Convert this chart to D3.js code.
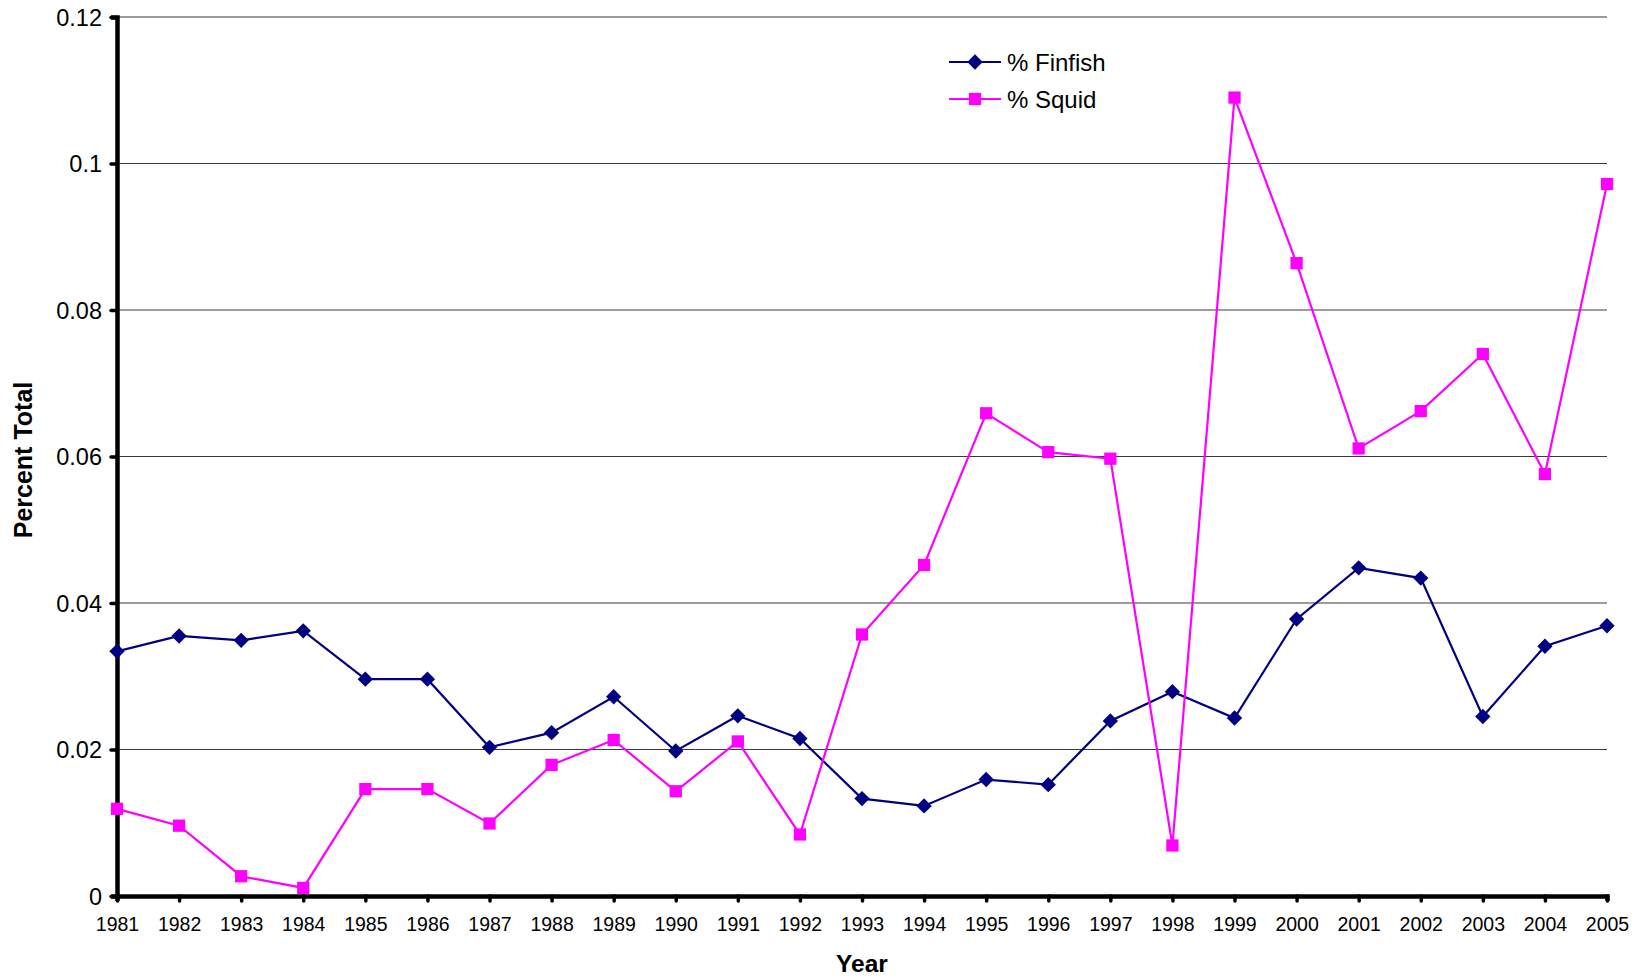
<!DOCTYPE html>
<html>
<head>
<meta charset="utf-8">
<script src="https://cdn.jsdelivr.net/npm/d3@7"></script>
<style>
body { margin: 0; background: white; }
text { font-family: Arial, "Liberation Sans", sans-serif; }
</style>
</head>
<body>
<script>
const largeur = 1642;
const hauteur = 979;
const marges = { haut: 17, droite: 35, bas: 83, gauche: 117 };

const annees = [1981, 1982, 1983, 1984, 1985, 1986, 1987, 1988, 1989, 1990, 1991, 1992, 1993,
    1994, 1995, 1996, 1997, 1998, 1999, 2000, 2001, 2002, 2003, 2004, 2005];

const finfish = [0.0334, 0.0355, 0.0349, 0.0362, 0.0296, 0.0296, 0.0203, 0.0223, 0.0272, 0.0198,
    0.0246, 0.0215, 0.0133, 0.0123, 0.0159, 0.0152, 0.0239, 0.0279, 0.0243, 0.0378,
    0.0448, 0.0434, 0.0245, 0.0341, 0.0369];

const squid = [0.0119, 0.0096, 0.0027, 0.0011, 0.0146, 0.0146, 0.0099, 0.0179, 0.0213, 0.0143,
    0.0211, 0.0084, 0.0357, 0.0452, 0.0659, 0.0606, 0.0597, 0.0069, 0.1090, 0.0864,
    0.0611, 0.0662, 0.0740, 0.0576, 0.0972];

const ticksY = [0, 0.02, 0.04, 0.06, 0.08, 0.1, 0.12];
const etiquettesY = ["0", "0.02", "0.04", "0.06", "0.08", "0.1", "0.12"];

const series = [
    { nom: "% Finfish", valeurs: finfish, couleur: "#000080", symbole: d3.symbolDiamond2, taille: 150 },
    { nom: "% Squid", valeurs: squid, couleur: "#FF00FF", symbole: d3.symbolSquare, taille: 150 }
];

const svg = d3
.select("body")
.append("svg")
.attr("width", largeur)
.attr("height", hauteur);

const x = d3.scaleLinear()
.domain([annees[0], annees[annees.length - 1]])
.range([marges.gauche, largeur - marges.droite]);

const y = d3.scaleLinear()
.domain([0, 0.12])
.range([hauteur - marges.bas, marges.haut]);

// grille
svg.append("g")
.selectAll("line")
.data(ticksY.slice(1))
.enter()
.append("line")
.attr("x1", marges.gauche)
.attr("x2", largeur - marges.droite)
.attr("y1", function(d) { return y(d); })
.attr("y2", function(d) { return y(d); })
.attr("stroke", "#3a3a3a")
.attr("stroke-width", 1.2);

// axe Y
const axeY = svg.append("g")
.attr("transform", "translate(" + marges.gauche + ",0)")
.call(d3.axisLeft(y).tickValues(ticksY).tickFormat(function(d, i) { return etiquettesY[i]; }).tickSize(6).tickPadding(9));
axeY.select(".domain").attr("stroke", "black").attr("stroke-width", 4.5);
axeY.selectAll(".tick line").attr("stroke", "black").attr("stroke-width", 3.5).attr("stroke-linecap", "round");
axeY.selectAll("text").attr("font-size", 23.5).attr("fill", "black").attr("dy", "0.34em");

// axe X
const axeX = svg.append("g")
.attr("transform", "translate(0," + (hauteur - marges.bas) + ")")
.call(d3.axisBottom(x).tickValues(annees).tickFormat(d3.format("d")).tickSize(5).tickPadding(16));
axeX.select(".domain").attr("stroke", "black").attr("stroke-width", 4.5);
axeX.selectAll(".tick line").attr("stroke", "black").attr("stroke-width", 3.5).attr("stroke-linecap", "round");
axeX.selectAll("text").attr("font-size", 19.5).attr("fill", "black");

// titres
svg.append("text")
.attr("x", 862)
.attr("y", 972)
.attr("text-anchor", "middle")
.attr("font-size", 24.5)
.attr("font-weight", "bold")
.text("Year");

svg.append("text")
.attr("transform", "translate(32,460) rotate(-90)")
.attr("text-anchor", "middle")
.attr("font-size", 25)
.attr("font-weight", "bold")
.text("Percent Total");

// lignes et marqueurs
const ligne = d3.line()
.x(function(d, i) { return x(annees[i]); })
.y(function(d) { return y(d); });

series.forEach(function(s)
{
    svg.append("path")
    .datum(s.valeurs)
    .attr("d", ligne)
    .attr("fill", "none")
    .attr("stroke", s.couleur)
    .attr("stroke-width", 2.2);

    svg.append("g")
    .selectAll("path")
    .data(s.valeurs)
    .enter()
    .append("path")
    .attr("transform", function(d, i) { return "translate(" + x(annees[i]) + "," + y(d) + ")"; })
    .attr("d", d3.symbol().type(s.symbole).size(s.taille))
    .attr("fill", s.couleur);
});

// légende
const legende = svg.append("g").attr("transform", "translate(949,62)");
series.forEach(function(s, i)
{
    const g = legende.append("g").attr("transform", "translate(0," + (i * 37) + ")");
    g.append("line")
    .attr("x1", 0).attr("x2", 52)
    .attr("stroke", s.couleur)
    .attr("stroke-width", 2.2);
    g.append("path")
    .attr("transform", "translate(26,0)")
    .attr("d", d3.symbol().type(s.symbole).size(s.taille))
    .attr("fill", s.couleur);
    g.append("text")
    .attr("x", 58)
    .attr("dy", "0.36em")
    .attr("font-size", 24)
    .text(s.nom);
});
</script>
</body>
</html>
